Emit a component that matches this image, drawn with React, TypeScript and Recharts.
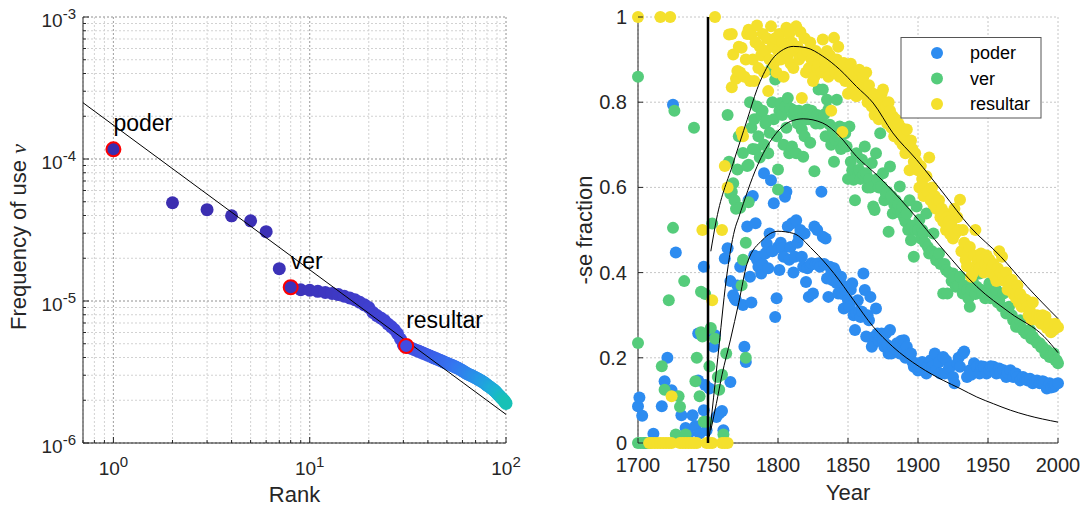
import {
  ComposedChart,
  Scatter,
  Line,
  XAxis,
  YAxis,
  CartesianGrid,
  ReferenceLine,
} from "recharts";

// ---- left panel: frequency vs rank (log-log) ----
const rankFreq = [
  1.17e-4, 4.92e-5, 4.4e-5, 3.98e-5, 3.67e-5, 3.08e-5, 1.69e-5, 1.25e-5, 1.2e-5, 1.19e-5,
  1.17e-5, 1.15e-5, 1.13e-5, 1.11e-5, 1.08e-5, 1.05e-5, 1.02e-5, 9.8e-6, 9.4e-6, 9.0e-6,
  8.3e-6, 7.9e-6, 7.6e-6, 7.3e-6, 6.9e-6, 6.6e-6, 6.3e-6, 5.9e-6, 5.4e-6, 4.9e-6,
  4.82e-6, 4.72e-6, 4.64e-6, 4.56e-6, 4.49e-6, 4.42e-6, 4.35e-6, 4.28e-6, 4.22e-6, 4.15e-6,
  4.1e-6, 4.04e-6, 3.98e-6, 3.93e-6, 3.88e-6, 3.83e-6, 3.78e-6, 3.73e-6, 3.68e-6, 3.64e-6,
  3.6e-6, 3.56e-6, 3.52e-6, 3.48e-6, 3.44e-6, 3.4e-6, 3.36e-6, 3.32e-6, 3.27e-6, 3.23e-6,
  3.18e-6, 3.14e-6, 3.09e-6, 3.06e-6, 3.03e-6, 3.0e-6, 2.97e-6, 2.94e-6, 2.91e-6, 2.88e-6,
  2.85e-6, 2.82e-6, 2.79e-6, 2.76e-6, 2.73e-6, 2.7e-6, 2.67e-6, 2.63e-6, 2.6e-6, 2.56e-6,
  2.53e-6, 2.5e-6, 2.47e-6, 2.44e-6, 2.41e-6, 2.38e-6, 2.35e-6, 2.32e-6, 2.28e-6, 2.24e-6,
  2.2e-6, 2.17e-6, 2.14e-6, 2.1e-6, 2.07e-6, 2.04e-6, 2.01e-6, 1.98e-6, 1.94e-6, 1.9e-6,
];
const highlightRanks = [1, 8, 31];
const highlightWords = ["poder", "ver", "resultar"];
const zipfFitRanks = [0.7, 100];
const zipfFitFreq = [2.49e-4, 1.59e-6];

const rankTicks = [0.7, 0.8, 0.9, 1, 2, 3, 4, 5, 6, 7, 8, 9, 10, 20, 30, 40, 50, 60, 70, 80, 90, 100];
const freqTicks = [
  1e-6, 2e-6, 3e-6, 4e-6, 5e-6, 6e-6, 7e-6, 8e-6, 9e-6,
  1e-5, 2e-5, 3e-5, 4e-5, 5e-5, 6e-5, 7e-5, 8e-5, 9e-5,
  1e-4, 2e-4, 3e-4, 4e-4, 5e-4, 6e-4, 7e-4, 8e-4, 9e-4, 1e-3,
];
const rankDecades = [1, 10, 100];
const freqDecades = [1e-6, 1e-5, 1e-4, 1e-3];

// ---- right panel: -se fraction by year ----
const poderByYear: [number, number][] = [
  [1700, 0.086], [1701, 0.107], [1703, 0.064], [1705, 0], [1711, 0.022], [1717, 0.086], [1719, 0.145],
  [1721, 0.2], [1724, 0.124], [1725, 0.794], [1727, 0.447], [1731, 0.065], [1734, 0.035], [1736, 0.022],
  [1739, 0.065], [1741, 0.04], [1743, 0.257], [1743, 0.147], [1744, 0.022], [1747, 0.414], [1747, 0.077],
  [1748, 0.136], [1749, 0.03], [1751, 0.128], [1754, 0.226], [1755, 0.253], [1756, 0.061], [1758, 0.069],
  [1760, 0.075], [1761, 0.03], [1762, 0.433], [1764, 0.457], [1766, 0.143], [1766, 0.38], [1768, 0.347],
  [1769, 0.34], [1770, 0.335], [1771, 0.37], [1773, 0.414], [1775, 0.324], [1776, 0.226], [1777, 0.19],
  [1778, 0.508], [1779, 0.57], [1780, 0.39], [1781, 0.33], [1782, 0.58], [1783, 0.44], [1784, 0.516],
  [1785, 0.43], [1786, 0.414], [1787, 0.437], [1788, 0.398], [1789, 0.42], [1790, 0.633], [1791, 0.445],
  [1792, 0.468], [1793, 0.41], [1794, 0.492], [1795, 0.617], [1796, 0.45], [1797, 0.563], [1798, 0.296],
  [1799, 0.34], [1800, 0.46], [1801, 0.406], [1802, 0.47], [1803, 0.457], [1804, 0.437], [1805, 0.578],
  [1806, 0.59], [1807, 0.508], [1808, 0.43], [1809, 0.46], [1810, 0.516], [1811, 0.4], [1812, 0.437],
  [1813, 0.523], [1814, 0.47], [1815, 0.484], [1816, 0.5], [1817, 0.437], [1818, 0.414], [1819, 0.492],
  [1820, 0.378], [1821, 0.41], [1822, 0.343], [1823, 0.418], [1824, 0.422], [1825, 0.351], [1826, 0.508],
  [1827, 0.42], [1828, 0.5], [1829, 0.422], [1830, 0.414], [1831, 0.59], [1832, 0.484], [1833, 0.42],
  [1834, 0.48], [1835, 0.386], [1836, 0.343], [1837, 0.414], [1838, 0.398], [1839, 0.382], [1840, 0.41],
  [1841, 0.402], [1842, 0.375], [1843, 0.351], [1844, 0.382], [1845, 0.39], [1846, 0.35], [1847, 0.316],
  [1848, 0.359], [1849, 0.367], [1850, 0.335], [1851, 0.32], [1852, 0.36], [1853, 0.375], [1854, 0.3],
  [1855, 0.265], [1856, 0.304], [1857, 0.335], [1858, 0.31], [1859, 0.296], [1860, 0.308], [1861, 0.398],
  [1862, 0.359], [1863, 0.25], [1864, 0.3], [1865, 0.288], [1866, 0.343], [1867, 0.226], [1868, 0.234],
  [1869, 0.25], [1870, 0.316], [1871, 0.257], [1872, 0.24], [1873, 0.25], [1874, 0.257], [1875, 0.241],
  [1876, 0.226], [1877, 0.257], [1878, 0.23], [1879, 0.21], [1880, 0.265], [1881, 0.21], [1882, 0.226],
  [1884, 0.22], [1885, 0.234], [1887, 0.21], [1888, 0.24], [1890, 0.241], [1891, 0.2], [1892, 0.226],
  [1894, 0.202], [1895, 0.21], [1896, 0.19], [1897, 0.179], [1899, 0.187], [1900, 0.17], [1901, 0.179],
  [1903, 0.19], [1904, 0.171], [1906, 0.163], [1907, 0.18], [1909, 0.194], [1910, 0.179], [1912, 0.21],
  [1913, 0.171], [1915, 0.19], [1916, 0.163], [1918, 0.202], [1919, 0.163], [1920, 0.194], [1922, 0.175],
  [1923, 0.179], [1925, 0.155], [1926, 0.14], [1928, 0.187], [1929, 0.2], [1930, 0.179], [1932, 0.21],
  [1933, 0.215], [1935, 0.155], [1937, 0.171], [1938, 0.16], [1940, 0.187], [1942, 0.179], [1944, 0.163],
  [1945, 0.18], [1947, 0.179], [1949, 0.163], [1951, 0.171], [1952, 0.18], [1954, 0.179], [1956, 0.163],
  [1958, 0.175], [1959, 0.165], [1961, 0.171], [1963, 0.155], [1964, 0.165], [1966, 0.171], [1968, 0.155],
  [1970, 0.163], [1971, 0.155], [1973, 0.147], [1975, 0.155], [1977, 0.15], [1978, 0.147], [1980, 0.151],
  [1982, 0.14], [1984, 0.145], [1985, 0.147], [1987, 0.14], [1989, 0.145], [1990, 0.143], [1992, 0.128],
  [1994, 0.14], [1995, 0.13], [1997, 0.132], [1998, 0.138], [2000, 0.14],
];

const verByYear: [number, number][] = [
  [1700, 0.86], [1700, 0.235], [1700, 0], [1702, 0], [1704, 0], [1706, 0], [1708, 0], [1717, 0.18],
  [1719, 0.125], [1722, 0.335], [1725, 0.505], [1726, 0.78], [1727, 0.02], [1729, 0.11], [1730, 0.085],
  [1733, 0.38], [1734, 0.02], [1740, 0.74], [1741, 0.145], [1742, 0.2], [1744, 0.11], [1745, 0.355],
  [1745, 0.26], [1746, 0.25], [1747, 0.05], [1748, 0.35], [1749, 0.05], [1751, 0.18], [1752, 0.27],
  [1753, 0.515], [1755, 0.245], [1757, 0.155], [1758, 0.125], [1760, 0.16], [1761, 0.02], [1763, 0.21],
  [1764, 0.77], [1765, 0.66], [1766, 0.585], [1767, 0.59], [1768, 0.61], [1769, 0.57], [1770, 0.55],
  [1771, 0.642], [1772, 0.72], [1773, 0.552], [1774, 0.37], [1775, 0.681], [1775, 0.43], [1777, 0.2],
  [1777, 0.47], [1778, 0.65], [1779, 0.653], [1779, 0.565], [1780, 0.8], [1781, 0.74], [1782, 0.69],
  [1783, 0.76], [1784, 0.689], [1785, 0.79], [1786, 0.72], [1787, 0.67], [1788, 0.77], [1789, 0.78],
  [1790, 0.7], [1791, 0.75], [1792, 0.757], [1793, 0.68], [1794, 0.728], [1795, 0.877], [1796, 0.8],
  [1797, 0.76], [1798, 0.853], [1799, 0.72], [1800, 0.642], [1800, 0.595], [1801, 0.78], [1802, 0.798],
  [1803, 0.77], [1804, 0.7], [1805, 0.79], [1806, 0.74], [1807, 0.81], [1808, 0.68], [1809, 0.785],
  [1810, 0.696], [1811, 0.77], [1812, 0.78], [1813, 0.68], [1814, 0.75], [1815, 0.78], [1816, 0.76],
  [1817, 0.736], [1818, 0.672], [1819, 0.72], [1820, 0.76], [1821, 0.783], [1822, 0.76], [1823, 0.705],
  [1824, 0.78], [1825, 0.77], [1826, 0.638], [1827, 0.75], [1828, 0.77], [1829, 0.83], [1830, 0.75],
  [1831, 0.76], [1832, 0.83], [1833, 0.771], [1834, 0.72], [1835, 0.806], [1836, 0.783], [1837, 0.747],
  [1838, 0.7], [1839, 0.73], [1840, 0.66], [1841, 0.711], [1842, 0.806], [1843, 0.72], [1844, 0.743],
  [1845, 0.69], [1846, 0.74], [1847, 0.7], [1848, 0.727], [1849, 0.696], [1850, 0.62], [1851, 0.743],
  [1852, 0.66], [1853, 0.64], [1854, 0.618], [1855, 0.57], [1856, 0.68], [1857, 0.64], [1858, 0.641],
  [1859, 0.62], [1860, 0.665], [1861, 0.63], [1862, 0.696], [1863, 0.633], [1864, 0.6], [1865, 0.62],
  [1866, 0.6], [1867, 0.657], [1868, 0.555], [1869, 0.547], [1870, 0.68], [1871, 0.62], [1872, 0.6],
  [1873, 0.727], [1874, 0.602], [1875, 0.633], [1876, 0.57], [1877, 0.586], [1878, 0.59], [1879, 0.496],
  [1880, 0.649], [1881, 0.58], [1882, 0.539], [1883, 0.56], [1884, 0.57], [1885, 0.55], [1886, 0.56],
  [1887, 0.602], [1888, 0.54], [1889, 0.555], [1890, 0.53], [1891, 0.52], [1892, 0.539], [1893, 0.5],
  [1894, 0.57], [1895, 0.476], [1896, 0.51], [1897, 0.437], [1898, 0.5], [1899, 0.555], [1900, 0.5],
  [1901, 0.524], [1902, 0.48], [1903, 0.5], [1904, 0.492], [1905, 0.47], [1906, 0.539], [1907, 0.46],
  [1908, 0.445], [1910, 0.45], [1911, 0.492], [1912, 0.44], [1913, 0.429], [1914, 0.43], [1915, 0.445],
  [1916, 0.42], [1918, 0.351], [1919, 0.42], [1920, 0.406], [1921, 0.351], [1922, 0.4], [1924, 0.38],
  [1925, 0.398], [1926, 0.39], [1927, 0.367], [1929, 0.37], [1930, 0.39], [1932, 0.351], [1933, 0.37],
  [1935, 0.359], [1936, 0.34], [1937, 0.32], [1938, 0.36], [1939, 0.382], [1941, 0.35], [1942, 0.367],
  [1944, 0.398], [1945, 0.36], [1946, 0.351], [1948, 0.34], [1949, 0.351], [1951, 0.375], [1952, 0.34],
  [1954, 0.351], [1956, 0.359], [1957, 0.33], [1958, 0.335], [1960, 0.32], [1961, 0.351], [1963, 0.304],
  [1964, 0.31], [1965, 0.32], [1967, 0.3], [1968, 0.288], [1970, 0.273], [1971, 0.28], [1973, 0.288],
  [1974, 0.27], [1975, 0.265], [1977, 0.257], [1978, 0.26], [1980, 0.265], [1981, 0.245], [1982, 0.25],
  [1984, 0.241], [1985, 0.235], [1987, 0.234], [1988, 0.225], [1989, 0.226], [1991, 0.21], [1992, 0.218],
  [1994, 0.202], [1995, 0.21], [1997, 0.21], [1998, 0.195], [1999, 0.194], [2000, 0.187],
];

const resultarByYear: [number, number][] = [
  [1700, 1], [1716, 1], [1723, 1], [1755, 1], [1746, 0.5], [1760, 0.5], [1724, 0.11], [1753, 0.335],
  [1708, 0], [1710, 0], [1712, 0], [1714, 0], [1716, 0], [1718, 0], [1720, 0], [1722, 0], [1724, 0],
  [1730, 0], [1732, 0], [1734, 0], [1736, 0], [1738, 0], [1740, 0], [1742, 0], [1749, 0], [1751, 0],
  [1753, 0], [1760, 0], [1762, 0], [1764, 0],
  [1762, 0.65], [1764, 0.6], [1765, 0.959], [1767, 0.96], [1767, 0.835], [1768, 0.912], [1770, 0.855],
  [1771, 0.873], [1772, 0.93], [1773, 0.87], [1774, 0.928], [1774, 0.73], [1775, 0.72], [1776, 0.86],
  [1777, 0.9], [1778, 0.96], [1779, 0.97], [1780, 0.85], [1781, 0.959], [1782, 0.9], [1783, 0.85],
  [1784, 0.94], [1785, 0.98], [1786, 0.88], [1787, 0.93], [1788, 0.91], [1789, 0.96], [1790, 0.87],
  [1791, 0.92], [1792, 0.95], [1793, 0.826], [1794, 0.9], [1795, 0.978], [1796, 0.93], [1797, 0.89],
  [1798, 0.95], [1799, 0.87], [1800, 0.92], [1801, 0.96], [1802, 0.9], [1803, 0.94], [1804, 0.86],
  [1805, 0.93], [1806, 0.975], [1807, 0.91], [1808, 0.96], [1809, 0.89], [1810, 0.94], [1811, 0.88],
  [1812, 0.92], [1813, 0.978], [1814, 0.93], [1815, 0.9], [1816, 0.965], [1817, 0.81], [1818, 0.91],
  [1819, 0.95], [1820, 0.87], [1821, 0.92], [1822, 0.88], [1823, 0.94], [1824, 0.9], [1825, 0.85],
  [1826, 0.86], [1827, 0.92], [1828, 0.88], [1829, 0.89], [1830, 0.91], [1831, 0.87], [1832, 0.947],
  [1833, 0.9], [1834, 0.88], [1835, 0.92], [1836, 0.86], [1837, 0.91], [1838, 0.78], [1839, 0.89],
  [1840, 0.951], [1841, 0.87], [1842, 0.9], [1843, 0.93], [1844, 0.86], [1845, 0.88], [1846, 0.73],
  [1847, 0.892], [1848, 0.85], [1849, 0.87], [1850, 0.82], [1851, 0.857], [1852, 0.89], [1853, 0.84],
  [1854, 0.82], [1855, 0.87], [1856, 0.814], [1857, 0.85], [1858, 0.876], [1859, 0.84], [1860, 0.82],
  [1861, 0.86], [1862, 0.83], [1863, 0.87], [1864, 0.8], [1865, 0.84], [1866, 0.81], [1867, 0.79],
  [1868, 0.82], [1869, 0.77], [1870, 0.783], [1871, 0.8], [1872, 0.76], [1873, 0.798], [1874, 0.82],
  [1875, 0.83], [1876, 0.77], [1877, 0.79], [1878, 0.75], [1879, 0.8], [1880, 0.78], [1881, 0.74],
  [1882, 0.767], [1883, 0.72], [1884, 0.76], [1885, 0.73], [1886, 0.75], [1887, 0.71], [1888, 0.74],
  [1889, 0.7], [1890, 0.72], [1891, 0.68], [1892, 0.736], [1893, 0.7], [1894, 0.64], [1895, 0.71],
  [1896, 0.69], [1897, 0.66], [1898, 0.68], [1899, 0.66], [1900, 0.64], [1901, 0.6], [1902, 0.65],
  [1903, 0.62], [1904, 0.58], [1905, 0.6], [1906, 0.626], [1907, 0.59], [1908, 0.67], [1909, 0.57],
  [1910, 0.6], [1911, 0.56], [1912, 0.58], [1913, 0.55], [1914, 0.57], [1915, 0.57], [1916, 0.53],
  [1917, 0.55], [1918, 0.52], [1919, 0.54], [1920, 0.5], [1921, 0.53], [1922, 0.52], [1923, 0.49],
  [1924, 0.51], [1925, 0.48], [1926, 0.55], [1927, 0.493], [1928, 0.53], [1929, 0.5], [1930, 0.571],
  [1931, 0.45], [1932, 0.5], [1933, 0.47], [1934, 0.43], [1935, 0.415], [1936, 0.45], [1937, 0.46],
  [1938, 0.39], [1939, 0.398], [1940, 0.44], [1941, 0.5], [1942, 0.42], [1943, 0.43], [1944, 0.41],
  [1945, 0.445], [1946, 0.43], [1947, 0.4], [1948, 0.42], [1949, 0.44], [1950, 0.41], [1951, 0.43],
  [1952, 0.4], [1953, 0.414], [1954, 0.42], [1955, 0.39], [1956, 0.38], [1957, 0.41], [1958, 0.45],
  [1959, 0.4], [1960, 0.437], [1961, 0.39], [1962, 0.38], [1963, 0.4], [1964, 0.36], [1965, 0.38],
  [1966, 0.37], [1967, 0.383], [1968, 0.35], [1969, 0.36], [1970, 0.34], [1971, 0.37], [1972, 0.33],
  [1973, 0.35], [1974, 0.32], [1975, 0.34], [1976, 0.33], [1977, 0.336], [1978, 0.32], [1979, 0.3],
  [1980, 0.31], [1981, 0.29], [1982, 0.33], [1984, 0.29], [1985, 0.3], [1987, 0.297], [1988, 0.28],
  [1989, 0.3], [1990, 0.29], [1991, 0.297], [1992, 0.27], [1994, 0.28], [1995, 0.26], [1997, 0.266],
  [1998, 0.28], [2000, 0.272],
];

// model fits
const poderFit: [number, number][] = [
  [1752, 0.03], [1756, 0.093], [1760, 0.16], [1766, 0.242], [1772, 0.33], [1778, 0.422], [1789, 0.477],
  [1800, 0.497], [1811, 0.492], [1825, 0.453], [1840, 0.398], [1854, 0.335], [1868, 0.273], [1882, 0.226],
  [1901, 0.179], [1918, 0.147], [1930, 0.128], [1942, 0.108], [1954, 0.092], [1966, 0.077], [1978, 0.065],
  [2000, 0.049],
];
const verFit: [number, number][] = [
  [1751, 0.015], [1757, 0.2], [1763, 0.383], [1769, 0.5], [1772, 0.53], [1785, 0.649], [1797, 0.72],
  [1809, 0.755], [1818, 0.761], [1832, 0.751], [1844, 0.72], [1856, 0.673], [1871, 0.628], [1894, 0.548],
  [1918, 0.454], [1942, 0.367], [1966, 0.305], [1990, 0.25], [2000, 0.212],
];
const resultarFit: [number, number][] = [
  [1752, 0.45], [1756, 0.524], [1768, 0.657], [1778, 0.759], [1785, 0.83], [1794, 0.892], [1804, 0.924],
  [1811, 0.931], [1820, 0.928], [1832, 0.908], [1844, 0.877], [1856, 0.837], [1868, 0.798], [1882, 0.728],
  [1899, 0.665], [1918, 0.587], [1937, 0.508], [1959, 0.438], [1978, 0.367], [2000, 0.292],
];
const switchYear = 1750;

const yearTicks = [1700, 1750, 1800, 1850, 1900, 1950, 2000];
const fractionTicks = [0, 0.2, 0.4, 0.6, 0.8, 1];

const seriesNames = ["poder", "ver", "resultar"];
const seriesColors = ["#2d8cf0", "#55cc7b", "#f4e02c"];

const FONT = "'Liberation Sans', Arial, sans-serif";
const INK = "#262626";

// parula-like shading of the rank points
const rankStops = [
  [0, [59, 44, 174]],
  [0.3, [66, 74, 224]],
  [0.55, [53, 117, 240]],
  [0.75, [37, 152, 230]],
  [0.9, [27, 179, 210]],
  [1, [23, 193, 182]],
] as [number, number[]][];
const rankColor = (rank: number) => {
  const t = (rank - 1) / 99;
  for (let i = 1; i < rankStops.length; i++) {
    const [t1, c1] = rankStops[i];
    const [t0, c0] = rankStops[i - 1];
    if (t <= t1) {
      const f = (t - t0) / (t1 - t0);
      const c = c0.map((v, k) => Math.round(v + (c1[k] - v) * f));
      return `rgb(${c[0]},${c[1]},${c[2]})`;
    }
  }
  return "rgb(23,193,182)";
};

const isDecade = (v: number) => Math.abs(Math.log10(v) - Math.round(Math.log10(v))) < 1e-9;

const LogXTick = (props: any) => {
  const { x, y, payload } = props;
  const v = payload.value;
  const major = isDecade(v);
  return (
    <g>
      <line x1={x} x2={x} y1={y} y2={y - (major ? 6 : 3)} stroke={INK} />
      {major && (
        <text x={x} y={y + 32} textAnchor="middle" fontSize={19} fill={INK} fontFamily={FONT}>
          10
          <tspan dy={-8} fontSize={15}>
            {Math.round(Math.log10(v))}
          </tspan>
        </text>
      )}
    </g>
  );
};

const LogYTick = (props: any) => {
  const { x, y, payload } = props;
  const v = payload.value;
  const major = isDecade(v);
  return (
    <g>
      <line x1={x} x2={x + (major ? 6 : 3)} y1={y} y2={y} stroke={INK} />
      {major && (
        <text x={x - 7} y={y + 10} textAnchor="end" fontSize={19} fill={INK} fontFamily={FONT}>
          10
          <tspan dy={-8} fontSize={15}>
            {Math.round(Math.log10(v))}
          </tspan>
        </text>
      )}
    </g>
  );
};

const YearTick = (props: any) => {
  const { x, y, payload } = props;
  return (
    <g>
      <line x1={x} x2={x} y1={y} y2={y - 5} stroke={INK} />
      <text x={x} y={y + 29} textAnchor="middle" fontSize={20} fill={INK} fontFamily={FONT}>
        {payload.value}
      </text>
    </g>
  );
};

const FractionTick = (props: any) => {
  const { x, y, payload } = props;
  return (
    <g>
      <line x1={x} x2={x + 5} y1={y} y2={y} stroke={INK} />
      <text x={x - 11} y={y + 7} textAnchor="end" fontSize={20} fill={INK} fontFamily={FONT}>
        {payload.value}
      </text>
    </g>
  );
};

const toPoints = (rows: [number, number][]) => rows.map(([x, y]) => ({ x, y }));

const LEFT_MARGIN = { top: 17, right: 34, bottom: 35, left: 23 };
const RIGHT_MARGIN = { top: 17, right: 28, bottom: 35, left: 38 };

// axes are repeated in the overlay chart (invisible) so both layers share one scale
const leftAxes = (visible: boolean) => [
  <XAxis
    key="x"
    type="number"
    dataKey="x"
    scale="log"
    domain={[0.7, 100]}
    ticks={rankTicks}
    interval={0}
    tick={visible ? LogXTick : false}
    tickLine={false}
    tickSize={0}
    tickMargin={0}
    axisLine={visible ? { stroke: INK } : false}
    height={30}
  />,
  <YAxis
    key="y"
    type="number"
    dataKey="y"
    scale="log"
    domain={[1e-6, 1e-3]}
    ticks={freqTicks}
    interval={0}
    tick={visible ? LogYTick : false}
    tickLine={false}
    tickSize={0}
    tickMargin={0}
    axisLine={visible ? { stroke: INK } : false}
    width={60}
  />,
];

const rightAxes = (visible: boolean) => [
  <XAxis
    key="x"
    type="number"
    dataKey="x"
    domain={[1700, 2000]}
    ticks={yearTicks}
    interval={0}
    tick={visible ? YearTick : false}
    tickLine={false}
    tickSize={0}
    tickMargin={0}
    axisLine={visible ? { stroke: INK } : false}
    height={30}
  />,
  <YAxis
    key="y"
    type="number"
    dataKey="y"
    domain={[0, 1]}
    ticks={fractionTicks}
    interval={0}
    tick={visible ? FractionTick : false}
    tickLine={false}
    tickSize={0}
    tickMargin={0}
    axisLine={visible ? { stroke: INK } : false}
    width={60}
  />,
];

const layer: React.CSSProperties = { position: "absolute", left: 0, top: 0 };

export default function App() {
  const rankPoints = rankFreq.map((f, i) => ({ x: i + 1, y: f }));
  const highlighted = highlightRanks.map((r, i) => ({
    x: r,
    y: rankFreq[r - 1],
    word: highlightWords[i],
  }));
  const zipfLine = zipfFitRanks.map((r, i) => ({ x: r, y: zipfFitFreq[i] }));
  const scatterSets = [poderByYear, verByYear, resultarByYear].map(toPoints);
  const fitSets = [poderFit, verFit, resultarFit].map(toPoints);

  return (
    <div style={{ position: "relative", width: 1086, height: 508, fontFamily: FONT, background: "#fff" }}>
      <style>{"body{margin:0}"}</style>

      {/* left: rank / frequency */}
      <div style={{ position: "absolute", left: 0, top: 0, width: 540, height: 508 }}>
        <div style={layer}>
          <ComposedChart width={540} height={508} margin={LEFT_MARGIN}>
            <CartesianGrid stroke="#d2d2d2" strokeDasharray="2 2" />
            {rankDecades.map((d) => (
              <ReferenceLine key={`rx${d}`} x={d} stroke="#a6a6a6" strokeDasharray="2 2" />
            ))}
            {freqDecades.map((d) => (
              <ReferenceLine key={`ry${d}`} y={d} stroke="#a6a6a6" strokeDasharray="2 2" />
            ))}
            {leftAxes(true)}
            <Scatter
              data={rankPoints}
              isAnimationActive={false}
              shape={(p: any) => <circle cx={p.cx} cy={p.cy} r={6.5} fill={rankColor(p.payload.x)} />}
            />
          </ComposedChart>
        </div>
        <div style={layer}>
          <ComposedChart width={540} height={508} margin={LEFT_MARGIN}>
            {leftAxes(false)}
            <Line
              data={zipfLine}
              dataKey="y"
              type="linear"
              stroke="#000"
              strokeWidth={1}
              dot={false}
              activeDot={false}
              isAnimationActive={false}
            />
            <Scatter
              data={highlighted}
              isAnimationActive={false}
              shape={(p: any) => (
                <g>
                  <circle cx={p.cx} cy={p.cy} r={7} fill={rankColor(p.payload.x)} stroke="#ff0000" strokeWidth={2} />
                  <text x={p.cx} y={p.cy - 18} fontSize={23} fill="#000" fontFamily={FONT}>
                    {p.payload.word}
                  </text>
                </g>
              )}
            />
          </ComposedChart>
        </div>
      </div>

      {/* right: -se fraction over time */}
      <div style={{ position: "absolute", left: 540, top: 0, width: 546, height: 508 }}>
        <div style={layer}>
          <ComposedChart width={546} height={508} margin={RIGHT_MARGIN}>
            <CartesianGrid stroke="#c6c6c6" strokeDasharray="2 2" />
            {rightAxes(true)}
            {scatterSets.map((pts, i) => (
              <Scatter
                key={seriesNames[i]}
                name={seriesNames[i]}
                data={pts}
                isAnimationActive={false}
                shape={(p: any) => <circle cx={p.cx} cy={p.cy} r={6} fill={seriesColors[i]} />}
              />
            ))}
          </ComposedChart>
        </div>
        <div style={layer}>
          <ComposedChart width={546} height={508} margin={RIGHT_MARGIN}>
            {rightAxes(false)}
            {fitSets.map((pts, i) => (
              <Line
                key={`fit-${seriesNames[i]}`}
                data={pts}
                dataKey="y"
                type="monotone"
                stroke="#000"
                strokeWidth={1}
                dot={false}
                activeDot={false}
                isAnimationActive={false}
              />
            ))}
            <ReferenceLine x={switchYear} stroke="#000" strokeWidth={2.5} />
          </ComposedChart>
        </div>
      </div>

      {/* axis titles and legend */}
      <svg
        width={1086}
        height={508}
        style={{ position: "absolute", left: 0, top: 0, pointerEvents: "none" }}
        fontFamily={FONT}
      >
        <text x={294.5} y={502} textAnchor="middle" fontSize={22} fill={INK}>
          Rank
        </text>
        <text transform="translate(26,237) rotate(-90)" textAnchor="middle" fontSize={22} fill={INK}>
          Frequency of use{" "}
          <tspan fontStyle="italic" fontFamily="'Liberation Serif', 'Times New Roman', serif">
            ν
          </tspan>
        </text>
        <text x={848} y={500} textAnchor="middle" fontSize={22} fill={INK}>
          Year
        </text>
        <text transform="translate(592,230) rotate(-90)" textAnchor="middle" fontSize={22} fill={INK}>
          -se fraction
        </text>

        <rect x={901} y={37.5} width={140} height={80.5} fill="#fff" stroke="#555" strokeWidth={1} />
        {seriesNames.map((name, i) => (
          <g key={name}>
            <circle cx={937} cy={53 + i * 25.5} r={6} fill={seriesColors[i]} />
            <text x={970} y={59 + i * 25.5} fontSize={18} fill="#000">
              {name}
            </text>
          </g>
        ))}
      </svg>
    </div>
  );
}
